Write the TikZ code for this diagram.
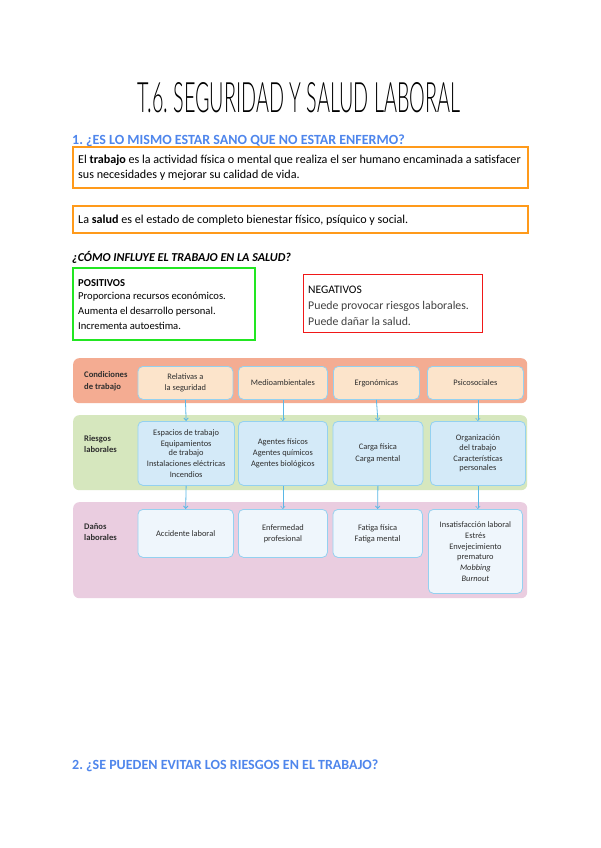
\documentclass[tikz,border=0pt]{standalone}
\usepackage{graphicx}
\usepackage{fontspec}
\setmainfont{Carlito}
\newfontfamily\titlefont{Lato}[UprightFont={* Light}]
\usetikzlibrary{arrows.meta}
\frenchspacing
\definecolor{headblue}{HTML}{4F86EC}
\definecolor{orangeC}{HTML}{FF9A1A}
\definecolor{greenC}{HTML}{22E622}
\definecolor{redC}{HTML}{F01818}
\definecolor{bandA}{HTML}{F4AC92}
\definecolor{bandB}{HTML}{D6E7BE}
\definecolor{bandC}{HTML}{EACDE0}
\definecolor{boxA}{HTML}{FCE4CB}
\definecolor{boxB}{HTML}{D4EAF8}
\definecolor{boxC}{HTML}{EFF6FC}
\definecolor{boxline}{HTML}{94D1F0}
\definecolor{arrowC}{HTML}{5AB7E6}
\definecolor{diagtext}{HTML}{2E2E2E}
\newcommand{\diagfont}{\fontsize{8.4}{11}\selectfont}
\newcommand{\bodyfont}{\fontsize{12.1}{14}\selectfont}
\begin{document}
\begin{tikzpicture}[x=1pt,y=-1pt,
  txt/.style={anchor=base west, inner sep=0},
  obox/.style={draw=orangeC, line width=1.8pt, anchor=north west, inner sep=0},
  band/.style={rounded corners=6pt, draw=none, anchor=north west, inner sep=0},
  cbox/.style={rounded corners=5pt, draw=boxline, line width=0.8pt, align=center,
     font=\diagfont, text=diagtext, inner sep=0, anchor=north west},
  blabel/.style={anchor=west, align=left, font=\fontsize{8.6}{11.5}\selectfont\bfseries, text=diagtext, inner sep=0},
  conn/.style={draw=arrowC, line width=0.8pt, -{Straight Barb[length=2.5pt,width=4.5pt]}},
  head/.style={anchor=base west, inner sep=0, font=\fontsize{14}{16}\selectfont\bfseries, text=headblue}
]
\useasboundingbox[fill=white] (0,0) rectangle (600,848);

% Title
\node[inner sep=0] (title) at (299,98) {\resizebox{323pt}{30pt}{\titlefont\fontsize{43}{50}\selectfont T.6. SEGURIDAD Y SALUD LABORAL}};

% Heading 1
\node[head] (h1) at (72,144) {1. ¿ES LO MISMO ESTAR SANO QUE NO ESTAR ENFERMO?};

% Definition boxes
\node[obox, minimum width=455pt, minimum height=41pt] (def1) at (72,146) {};
\node[txt, font=\bodyfont] (def1a) at (78,163) {El \textbf{trabajo} es la actividad física o mental que realiza el ser humano encaminada a satisfacer};
\node[txt, font=\bodyfont] (def1b) at (78,178) {sus necesidades y mejorar su calidad de vida.};

\node[obox, minimum width=455pt, minimum height=27pt] (def2) at (72,205) {};
\node[txt, font=\bodyfont] (def2a) at (78,223) {La \textbf{salud} es el estado de completo bienestar físico, psíquico y social.};

% Sub heading
\node[txt, font=\fontsize{12.1}{14}\selectfont\bfseries\itshape] (h1b) at (72,261) {¿CÓMO INFLUYE EL TRABAJO EN LA SALUD?};

% Positive / negative boxes
\node[draw=greenC, line width=1.8pt, anchor=north west, inner sep=0, minimum width=182pt, minimum height=72pt] (pos) at (72,267) {};
\node[txt, font=\fontsize{10.6}{13}\selectfont\bfseries] (pos0) at (78,286) {POSITIVOS};
\node[txt, font=\fontsize{10.6}{13}\selectfont] (pos1) at (78,299) {Proporciona recursos económicos.};
\node[txt, font=\fontsize{10.6}{13}\selectfont] (pos2) at (78,314) {Aumenta el desarrollo personal.};
\node[txt, font=\fontsize{10.6}{13}\selectfont] (pos3) at (78,329) {Incrementa autoestima.};

\node[draw=redC, line width=1.4pt, anchor=north west, inner sep=0, minimum width=179pt, minimum height=58pt] (neg) at (303,274) {};
\node[txt, font=\fontsize{11.5}{13}\selectfont] (neg0) at (308,293) {NEGATIVOS};
\node[txt, font=\fontsize{11.8}{13}\selectfont, text=black!75] (neg1) at (308,309) {Puede provocar riesgos laborales.};
\node[txt, font=\fontsize{11.8}{13}\selectfont, text=black!75] (neg2) at (308,325) {Puede dañar la salud.};

% Diagram bands
\node[band, fill=bandA, minimum width=454pt, minimum height=45pt] (bandA) at (73,358) {};
\node[band, fill=bandB, minimum width=454pt, minimum height=75pt] (bandB) at (73,415) {};
\node[band, fill=bandC, minimum width=454pt, minimum height=96pt] (bandC) at (73,502) {};

\node[blabel] (labA) at (84,381) {Condiciones\\de trabajo};
\node[blabel] (labB) at (84,444) {Riesgos\\laborales};
\node[blabel] (labC) at (84,532) {Daños\\laborales};

% Row A
\node[cbox, fill=boxA, minimum width=95pt, minimum height=33pt] (a1) at (137.5,366) {Relativas a\\la seguridad};
\node[cbox, fill=boxA, minimum width=89pt, minimum height=33pt] (a2) at (238,366) {Medioambientales};
\node[cbox, fill=boxA, minimum width=86pt, minimum height=33pt] (a3) at (333,366) {Ergonómicas};
\node[cbox, fill=boxA, minimum width=96pt, minimum height=33pt] (a4) at (427,366) {Psicosociales};

% Row B
\node[cbox, fill=boxB, minimum width=96.5pt, minimum height=64pt] (b1) at (137.5,421) {Espacios de trabajo\\Equipamientos\\[-1.5pt]de trabajo\\Instalaciones eléctricas\\Incendios};
\node[cbox, fill=boxB, minimum width=89pt, minimum height=64pt] (b2) at (238,421) {Agentes físicos\\Agentes químicos\\Agentes biológicos};
\node[cbox, fill=boxB, minimum width=90pt, minimum height=64pt] (b3) at (332.5,421) {Carga física\\[1.5pt]Carga mental};
\node[cbox, fill=boxB, minimum width=95pt, minimum height=64pt] (b4) at (430,421) {Organización\\[-1.5pt]del trabajo\\Características\\[-1.5pt]personales};

% Row C
\node[cbox, fill=boxC, minimum width=95.5pt, minimum height=48pt] (c1) at (137.5,509) {Accidente laboral};
\node[cbox, fill=boxC, minimum width=89pt, minimum height=48pt] (c2) at (238,509) {Enfermedad\\profesional};
\node[cbox, fill=boxC, minimum width=89.5pt, minimum height=48pt] (c3) at (332.5,509) {Fatiga física\\Fatiga mental};
\node[cbox, fill=boxC, minimum width=94pt, minimum height=84pt] (c4) at (428,509) {Insatisfacción laboral\\Estrés\\Envejecimiento\\[-1pt]prematuro\\{\itshape Mobbing}\\{\itshape Burnout}};

% Connectors
\draw[conn] (a1.south) -- (b1.north);
\draw[conn, line width=0.5pt] (a2.south) -- (b2.north);
\draw[conn] (a3.south) -- (b3.north);
\draw[conn, line width=0.5pt] (a4.south -| b4.north) -- (b4.north);
\draw[conn] (b1.south) -- (c1.north);
\draw[conn, line width=0.5pt] (b2.south) -- (c2.north);
\draw[conn] (b3.south) -- (c3.north);
\draw[conn, line width=0.5pt] (b4.south) -- (b4.south |- c4.north);

% Heading 2
\node[head] (h2) at (72,769) {2. ¿SE PUEDEN EVITAR LOS RIESGOS EN EL TRABAJO?};
\end{tikzpicture}
\end{document}
